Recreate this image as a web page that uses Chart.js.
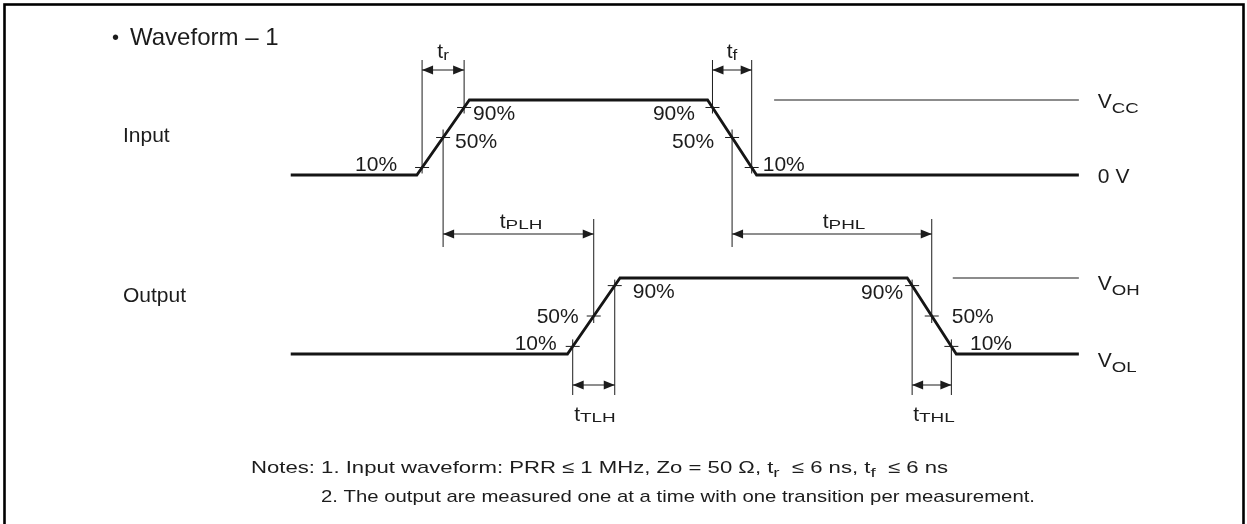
<!DOCTYPE html>
<html>
<head>
<style>
  html, body { margin: 0; padding: 0; background: #ffffff; }
  #wave { display: block; }
</style>
<script src="https://cdn.jsdelivr.net/npm/chart.js@4.4.1/dist/chart.umd.min.js"></script>
<script type="text/javascript">

  // waveform data: time in ns, level as fraction of the swing (0 = low, 1 = high)
  var inputTime   = [41.5, 59.5, 67, 101, 108, 154];
  var inputLevel  = [0, 0, 1, 1, 0, 0];
  var outputTime  = [41.5, 81, 88.5, 129.5, 136.5, 154];
  var outputLevel = [0, 0, 1, 1, 0, 0];

  // reference levels drawn on the right (VCC and VOH)
  var vccTime  = [110.5, 154];
  var vccLevel = [1, 1];
  var vohTime  = [136, 154];
  var vohLevel = [1, 1];

  var thresholds = [0.1, 0.5, 0.9];
  var thresholdText = ['10%', '50%', '90%'];

  var noteLines = [
    [['Notes: 1. Input waveform: PRR \u2264 1 MHz, Zo = 50 \u03A9, t', 0], ['r', 1], ['  \u2264 6 ns, t', 0], ['f', 1], ['  \u2264 6 ns', 0]],
    [['2. The output are measured one at a time with one transition per measurement.', 0]]
  ];

  var FONT = '"Liberation Sans", Arial, Helvetica, sans-serif';
  var INK = '#1c1c1c';

  function pts(t, l) {
    var out = [];
    for (var i = 0; i < t.length; i++) out.push({x: t[i], y: l[i]});
    return out;
  }

  // time where segment i -> i+1 crosses a level
  function crossAt(times, levels, i, lv) {
    var l0 = levels[i], l1 = levels[i + 1];
    return times[i] + (lv - l0) / (l1 - l0) * (times[i + 1] - times[i]);
  }

  // draw text made of parts [text, isSub]; sub parts are smaller, lowered, widened
  // fitW (optional) stretches the whole run to that width
  function rich(ctx, parts, x, y, size, subSize, subDrop, subStretch, align, fitW) {
    var w = 0, widths = [];
    for (var i = 0; i < parts.length; i++) {
      ctx.font = (parts[i][1] ? subSize : size) + 'px ' + FONT;
      var m = ctx.measureText(parts[i][0]).width * (parts[i][1] ? subStretch : 1);
      widths.push(m); w += m;
    }
    var k = fitW ? fitW / w : 1;
    var cx = align === 'right' ? x - w * k : (align === 'center' ? x - w * k / 2 : x);
    ctx.textAlign = 'left';
    ctx.textBaseline = 'alphabetic';
    ctx.save();
    ctx.translate(cx, y);
    ctx.scale(k, 1);
    var ox = 0;
    for (var j = 0; j < parts.length; j++) {
      var sub = parts[j][1];
      ctx.font = (sub ? subSize : size) + 'px ' + FONT;
      ctx.save();
      ctx.translate(ox, sub ? subDrop : 0);
      if (sub) ctx.scale(subStretch, 1);
      ctx.fillText(parts[j][0], 0, 0);
      ctx.restore();
      ox += widths[j];
    }
    ctx.restore();
  }

  function arrowHead(ctx, x, y, dir) {
    ctx.beginPath();
    ctx.moveTo(x, y);
    ctx.lineTo(x - dir * 11, y - 4.5);
    ctx.lineTo(x - dir * 11, y + 4.5);
    ctx.closePath();
    ctx.fill();
  }

  function line(ctx, x1, y1, x2, y2) {
    ctx.beginPath();
    ctx.moveTo(x1, y1);
    ctx.lineTo(x2, y2);
    ctx.stroke();
  }

  var diagramPlugin = {
    id: 'diagram',
    afterDatasetsDraw: function(chart) {
      var ctx = chart.ctx;
      var xs = chart.scales.x, yi = chart.scales.yIn, yo = chart.scales.yOut;

      // crossing points on every edge
      function edge(times, levels, seg, ys) {
        return thresholds.map(function(lv) {
          return {x: xs.getPixelForValue(crossAt(times, levels, seg, lv)), y: ys.getPixelForValue(lv)};
        });
      }
      var inRise = edge(inputTime, inputLevel, 1, yi);
      var inFall = edge(inputTime, inputLevel, 3, yi);
      var outRise = edge(outputTime, outputLevel, 1, yo);
      var outFall = edge(outputTime, outputLevel, 3, yo);

      ctx.save();
      ctx.strokeStyle = INK;
      ctx.fillStyle = INK;
      ctx.lineWidth = 1;

      // frame
      ctx.save();
      ctx.lineWidth = 2.6;
      ctx.strokeStyle = '#000';
      ctx.strokeRect(4.5, 4.5, 1239, 600);
      ctx.restore();

      // small horizontal ticks at each crossing
      [inRise, inFall, outRise, outFall].forEach(function(e) {
        e.forEach(function(p) { line(ctx, p.x - 7, p.y, p.x + 7, p.y); });
      });

      // extension lines: [point, top, bottom]
      var ext = [
        [inRise[0], 60, inRise[0].y + 6], [inRise[2], 60, inRise[2].y + 6],
        [inFall[2], 60, inFall[2].y + 6], [inFall[0], 60, inFall[0].y + 6],
        [inRise[1], inRise[1].y - 8, 247], [inFall[1], inFall[1].y - 8, 247],
        [outRise[1], 219, outRise[1].y + 7], [outFall[1], 219, outFall[1].y + 7],
        [outRise[0], outRise[0].y - 7, 395], [outRise[2], outRise[2].y - 6, 395],
        [outFall[2], outFall[2].y - 6, 395], [outFall[0], outFall[0].y - 7, 395]
      ];
      ext.forEach(function(e) { line(ctx, e[0].x, e[1], e[0].x, e[2]); });

      // dimension arrows
      var dims = [
        [inRise[0].x, inRise[2].x, 70],
        [inFall[2].x, inFall[0].x, 70],
        [inRise[1].x, outRise[1].x, 234],
        [inFall[1].x, outFall[1].x, 234],
        [outRise[0].x, outRise[2].x, 385],
        [outFall[2].x, outFall[0].x, 385]
      ];
      dims.forEach(function(d) {
        line(ctx, d[0], d[2], d[1], d[2]);
        arrowHead(ctx, d[0], d[2], -1);
        arrowHead(ctx, d[1], d[2], 1);
      });

      // percent labels: [point, dx, dy, align, which]
      ctx.font = '21px ' + FONT;
      ctx.textBaseline = 'alphabetic';
      var pl = [
        [inRise[0], -25, 3.5, 'right', 0], [inRise[1], 12, 10.5, 'left', 1], [inRise[2], 9, 12.5, 'left', 2],
        [inFall[2], -17.5, 12.5, 'right', 2], [inFall[1], -18, 10.5, 'right', 1], [inFall[0], 11, 3.5, 'left', 0],
        [outRise[0], -16, 3.6, 'right', 0], [outRise[1], -15, 7, 'right', 1], [outRise[2], 18, 12.4, 'left', 2],
        [outFall[2], -9, 13.4, 'right', 2], [outFall[1], 20, 7, 'left', 1], [outFall[0], 18.6, 3.6, 'left', 0]
      ];
      pl.forEach(function(p) {
        ctx.textAlign = p[3];
        ctx.fillText(thresholdText[p[4]], p[0].x + p[1], p[0].y + p[2]);
      });

      // timing names
      rich(ctx, [['t', 0], ['r', 1]], (inRise[0].x + inRise[2].x) / 2, 58, 21, 15, 2, 1.15, 'center');
      rich(ctx, [['t', 0], ['f', 1]], (inFall[0].x + inFall[2].x) / 2, 58, 21, 15, 2, 1.15, 'center');
      rich(ctx, [['t', 0], ['PLH', 1]], 521, 228, 21, 13.5, 1, 1.4, 'center');
      rich(ctx, [['t', 0], ['PHL', 1]], 844, 228, 21, 13.5, 1, 1.4, 'center');
      rich(ctx, [['t', 0], ['TLH', 1]], 595, 421, 21, 13.5, 1, 1.4, 'center');
      rich(ctx, [['t', 0], ['THL', 1]], 934, 421, 21, 13.5, 1, 1.4, 'center');

      // level names
      var right = xs.getPixelForValue(vccTime[1]) + 19;
      rich(ctx, [['V', 0], ['CC', 1]], right, yi.getPixelForValue(1) + 8, 21, 14, 5, 1.33, 'left');
      rich(ctx, [['0 V', 0]], right, yi.getPixelForValue(0) + 8, 21, 14, 5, 1.33, 'left');
      rich(ctx, [['V', 0], ['OH', 1]], right, yo.getPixelForValue(1) + 12, 21, 14, 5, 1.33, 'left');
      rich(ctx, [['V', 0], ['OL', 1]], right, yo.getPixelForValue(0) + 13, 21, 14, 5, 1.33, 'left');

      // headings
      ctx.textAlign = 'left';
      ctx.font = '20px ' + FONT;
      ctx.fillText('\u2022', 112, 44);
      ctx.font = '24px ' + FONT;
      ctx.fillText('Waveform \u2013 1', 130, 45);
      ctx.font = '21px ' + FONT;
      ctx.fillText('Input', 123, 142);
      ctx.fillText('Output', 123, 302);

      // notes
      rich(ctx, noteLines[0], 251, 473, 17, 12, 4, 1.2, 'left', 697);
      rich(ctx, noteLines[1], 321, 502, 17, 12, 4, 1.2, 'left', 714);

      ctx.restore();
    }
  };

  function drawChart() {
    var waveStyle = {showLine: true, pointRadius: 0, borderColor: '#151515', borderWidth: 2.8, borderJoinStyle: 'miter', tension: 0, fill: false};
    var refStyle = {showLine: true, pointRadius: 0, borderColor: '#8c8c8c', borderWidth: 2, tension: 0, fill: false};

    new Chart(document.getElementById('wave'), {
      type: 'scatter',
      data: {
        datasets: [
          Object.assign({label: 'Input', data: pts(inputTime, inputLevel), yAxisID: 'yIn'}, waveStyle),
          Object.assign({label: 'Output', data: pts(outputTime, outputLevel), yAxisID: 'yOut'}, waveStyle),
          Object.assign({label: 'VCC', data: pts(vccTime, vccLevel), yAxisID: 'yIn'}, refStyle),
          Object.assign({label: 'VOH', data: pts(vohTime, vohLevel), yAxisID: 'yOut'}, refStyle)
        ]
      },
      options: {
        responsive: false,
        animation: false,
        devicePixelRatio: 1,
        events: [],
        layout: {padding: 0},
        plugins: {legend: {display: false}, tooltip: {enabled: false}, title: {display: false}},
        scales: {
          x: {type: 'linear', min: 0, max: 178, display: false},
          yIn: {type: 'linear', min: -4.6533, max: 2.3333, display: false},
          yOut: {type: 'linear', min: -2.2368, max: 4.6579, display: false}
        }
      },
      plugins: [diagramPlugin]
    });
  }
</script>
</head>
<body onload="drawChart()">
  <canvas id="wave" width="1247" height="524"></canvas>
</body>
</html>
